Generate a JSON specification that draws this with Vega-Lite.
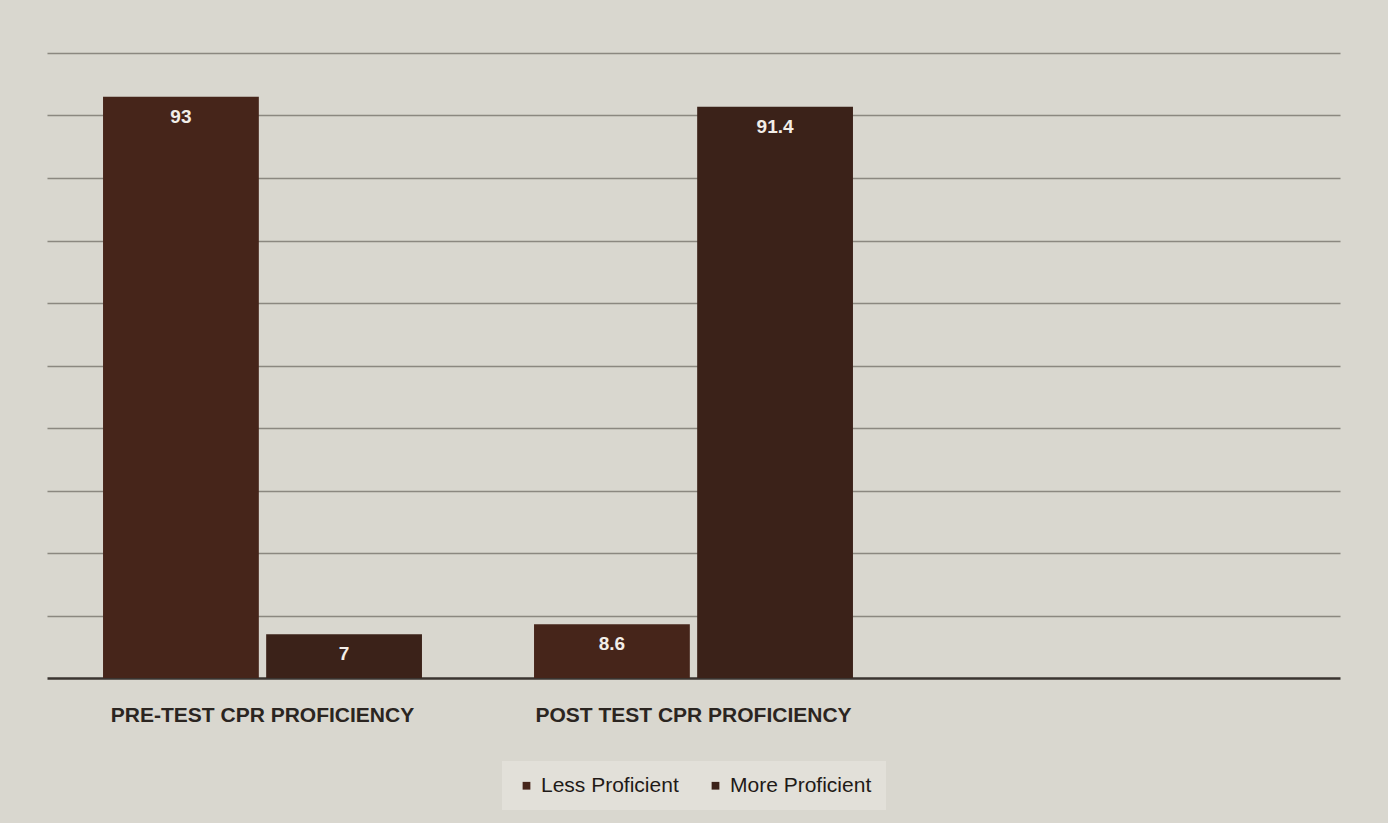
{
  "$schema": "https://vega.github.io/schema/vega-lite/v6.json",
  "width": 1293,
  "height": 625,
  "autosize": {"type": "none"},
  "padding": {"left": 47, "top": 53, "right": 48, "bottom": 145},
  "background": "#d9d7cf",
  "data": {
    "values": [
      {"group": "PRE-TEST CPR PROFICIENCY", "series": "Less Proficient", "value": 93},
      {"group": "PRE-TEST CPR PROFICIENCY", "series": "More Proficient", "value": 7},
      {"group": "POST TEST CPR PROFICIENCY", "series": "Less Proficient", "value": 8.6},
      {"group": "POST TEST CPR PROFICIENCY", "series": "More Proficient", "value": 91.4}
    ]
  },
  "config": {
    "view": {"stroke": null},
    "font": "Liberation Sans",
    "legend": {"layout": {"bottom": {"anchor": "middle"}}}
  },
  "encoding": {
    "x": {
      "field": "group",
      "type": "nominal",
      "sort": null,
      "scale": {
        "domain": ["PRE-TEST CPR PROFICIENCY", "POST TEST CPR PROFICIENCY", " "],
        "paddingInner": 0.26,
        "paddingOuter": 0.13
      },
      "axis": {
        "title": null,
        "labelAngle": 0,
        "labelFont": "Liberation Sans",
        "labelFontSize": 21,
        "labelFontWeight": "bold",
        "labelColor": "#2b2521",
        "labelPadding": 26,
        "labelLimit": 0,
        "ticks": false,
        "domainColor": "#3a3430",
        "domainWidth": 2.5,
        "grid": false
      }
    },
    "xOffset": {
      "field": "series",
      "type": "nominal",
      "scale": {"paddingInner": 0.045, "paddingOuter": 0}
    },
    "y": {
      "field": "value",
      "type": "quantitative",
      "scale": {"domain": [0, 100], "nice": false},
      "axis": {
        "title": null,
        "labels": false,
        "ticks": false,
        "domain": false,
        "grid": true,
        "values": [10, 20, 30, 40, 50, 60, 70, 80, 90, 100],
        "gridColor": "#77746c",
        "gridWidth": 1.5,
        "gridOpacity": 0.8
      }
    }
  },
  "layer": [
    {
      "mark": {"type": "bar"},
      "encoding": {
        "color": {
          "field": "series",
          "type": "nominal",
          "scale": {"domain": ["Less Proficient", "More Proficient"], "range": ["#46251a", "#3b2219"]},
          "legend": {
            "title": null,
            "orient": "bottom",
            "direction": "horizontal",
            "offset": 36,
            "symbolType": "square",
            "symbolSize": 60,
            "labelFont": "Liberation Sans",
            "labelFontSize": 21,
            "labelColor": "#1f1a17",
            "columnPadding": 26,
            "fillColor": "#e2e0d9",
            "padding": 14
          }
        }
      }
    },
    {
      "mark": {
        "type": "text",
        "baseline": "top",
        "dy": 11,
        "color": "#f2eee8",
        "fontSize": 19,
        "fontWeight": "bold",
        "font": "Liberation Sans"
      },
      "encoding": {
        "text": {"field": "value", "type": "quantitative"}
      }
    }
  ]
}
